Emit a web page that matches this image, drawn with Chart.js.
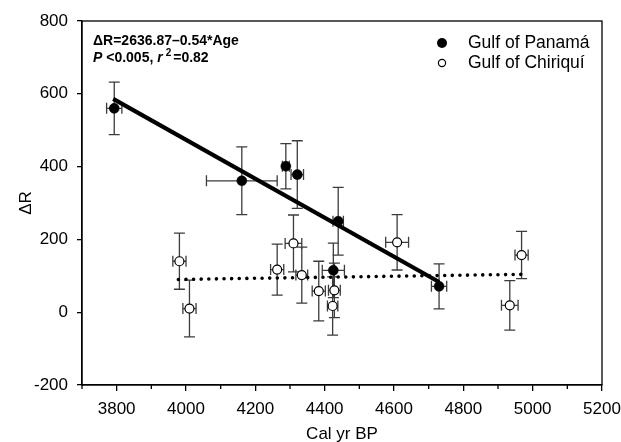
<!DOCTYPE html>
<html><head><meta charset="utf-8">
<script src="https://cdn.jsdelivr.net/npm/chart.js@4"></script>
<style>html,body{margin:0;padding:0;background:#fff;}canvas{display:block;}</style>
</head><body>
<canvas id="c" width="621" height="442"></canvas>
<script>
// ---- data ----
const panamaAge    = [3793, 4161, 4288, 4321, 4439, 4425, 4730];
const panamaDR     = [560, 361, 401, 378, 250, 115, 71];
const panamaAgeErr = [22, 102, 10, 18, 15, 32, 22];
const panamaDRErr  = [72, 93, 62, 93, 93, 75, 62];

const chiriquiAge    = [3981, 4010, 4263, 4310, 4334, 4383, 4428, 4423, 4609, 4968, 4934];
const chiriquiDR     = [140, 10, 117, 189, 102, 58, 60, 17, 192, 157, 19];
const chiriquiAgeErr = [19, 19, 19, 24, 17, 19, 17, 15, 33, 19, 24];
const chiriquiDRErr  = [77, 78, 70, 78, 77, 82, 75, 80, 76, 65, 68];

const panamaFitAge   = [3790, 4730];
const panamaFitDR    = [586, 83];
const chiriquiFitAge = [3978, 4968];
const chiriquiFitDR  = [90, 104];

const xTickValues  = [3800, 4000, 4200, 4400, 4600, 4800, 5000, 5200];
const xMinorTicks  = [3700, 3900, 4100, 4300, 4500, 4700, 4900, 5100];
const yTickValues  = [-200, 0, 200, 400, 600, 800];

const seriesNames = ['Gulf of Panamá', 'Gulf of Chiriquí'];
const xTitle = 'Cal yr BP';
const yTitle = 'ΔR';
const eqLine = 'ΔR=2636.87–0.54*Age';

const FONT = '"Liberation Sans", Arial, Helvetica, sans-serif';
const toPts = (xs, ys) => xs.map((v, i) => ({x: v, y: ys[i]}));

const errorBars = {
  id: 'errorBars',
  beforeDatasetsDraw(chart) {
    const {ctx, scales: {x, y}} = chart;
    ctx.save();
    ctx.strokeStyle = '#3c3c3c';
    ctx.lineWidth = 1.3;
    chart.data.datasets.forEach(ds => {
      if (!ds.errX) return;
      ds.data.forEach((p, i) => {
        const px = x.getPixelForValue(p.x), py = y.getPixelForValue(p.y);
        const y1 = y.getPixelForValue(p.y + ds.errY[i]), y2 = y.getPixelForValue(p.y - ds.errY[i]);
        const x1 = x.getPixelForValue(p.x - ds.errX[i]), x2 = x.getPixelForValue(p.x + ds.errX[i]);
        const c = 5.5;
        ctx.beginPath();
        ctx.moveTo(px, y1); ctx.lineTo(px, y2);
        ctx.moveTo(px - c, y1); ctx.lineTo(px + c, y1);
        ctx.moveTo(px - c, y2); ctx.lineTo(px + c, y2);
        ctx.moveTo(x1, py); ctx.lineTo(x2, py);
        ctx.moveTo(x1, py - c); ctx.lineTo(x1, py + c);
        ctx.moveTo(x2, py - c); ctx.lineTo(x2, py + c);
        ctx.stroke();
      });
    });
    ctx.restore();
  }
};

const decorations = {
  id: 'decorations',
  afterDraw(chart) {
    const {ctx, chartArea: a, scales: {x}} = chart;
    ctx.save();
    // frame
    ctx.strokeStyle = '#000';
    ctx.lineWidth = 1.3;
    ctx.strokeRect(a.left, a.top, a.right - a.left, a.bottom - a.top);
    // minor x ticks
    ctx.beginPath();
    xMinorTicks.forEach(v => {
      const px = x.getPixelForValue(v);
      ctx.moveTo(px, a.bottom); ctx.lineTo(px, a.bottom + 4);
    });
    ctx.stroke();
    // axis titles
    ctx.fillStyle = '#000';
    ctx.font = '17px ' + FONT;
    ctx.textAlign = 'center';
    ctx.textBaseline = 'alphabetic';
    ctx.fillText(xTitle, (a.left + a.right) / 2, 439);
    ctx.save();
    ctx.translate(31, (a.top + a.bottom) / 2);
    ctx.rotate(-Math.PI / 2);
    ctx.fillText(yTitle, 0, 0);
    ctx.restore();
    // equation annotation
    ctx.textAlign = 'left';
    ctx.font = 'bold 14px ' + FONT;
    ctx.fillText(eqLine, 93, 45);
    let cx = 93;
    const seg = (t, f, dy) => { ctx.font = f; ctx.fillText(t, cx, 62 + (dy || 0)); cx += ctx.measureText(t).width; };
    seg('P', 'italic bold 14px ' + FONT);
    seg(' <0.005, ', 'bold 14px ' + FONT);
    seg('r', 'italic bold 14px ' + FONT);
    cx += 3;
    seg('2', 'bold 10px ' + FONT, -6);
    cx += 2;
    seg('=0.82', 'bold 14px ' + FONT);
    // legend
    ctx.font = '17.5px ' + FONT;
    ctx.textBaseline = 'middle';
    ctx.beginPath(); ctx.arc(442, 43, 5, 0, Math.PI * 2); ctx.fillStyle = '#000'; ctx.fill();
    ctx.fillText(seriesNames[0], 468, 43);
    ctx.beginPath(); ctx.arc(442, 63, 3.6, 0, Math.PI * 2); ctx.fillStyle = '#fff'; ctx.fill();
    ctx.lineWidth = 1.2; ctx.strokeStyle = '#000'; ctx.stroke();
    ctx.fillStyle = '#000';
    ctx.fillText(seriesNames[1], 468, 63);
    ctx.restore();
  }
};

new Chart(document.getElementById('c'), {
  type: 'scatter',
  data: {
    datasets: [
      {
        label: seriesNames[0],
        data: toPts(panamaAge, panamaDR),
        errX: panamaAgeErr, errY: panamaDRErr,
        pointRadius: 5, pointBackgroundColor: '#000', pointBorderColor: '#000', pointBorderWidth: 0.5
      },
      {
        label: seriesNames[1],
        data: toPts(chiriquiAge, chiriquiDR),
        errX: chiriquiAgeErr, errY: chiriquiDRErr,
        pointRadius: 4.5, pointBackgroundColor: '#fff', pointBorderColor: '#000', pointBorderWidth: 1.2
      },
      {
        label: 'Panamá fit',
        data: toPts(panamaFitAge, panamaFitDR),
        showLine: true, borderColor: '#000', borderWidth: 4.2, pointRadius: 0, borderCapStyle: 'butt'
      },
      {
        label: 'Chiriquí fit',
        data: toPts(chiriquiFitAge, chiriquiFitDR),
        showLine: true, borderColor: '#000', borderWidth: 3.6, pointRadius: 0,
        borderDash: [0.01, 7.6], borderCapStyle: 'round'
      }
    ]
  },
  options: {
    responsive: false,
    animation: false,
    events: [],
    layout: {padding: {left: 0, top: 21, right: 19, bottom: 0}},
    plugins: {legend: {display: false}, tooltip: {enabled: false}},
    scales: {
      x: {
        type: 'linear', min: 3700, max: 5200,
        afterBuildTicks: s => { s.ticks = xTickValues.map(v => ({value: v})); },
        afterFit: s => { s.height = 57; s.paddingLeft = 0; s.paddingRight = 0; },
        grid: {drawOnChartArea: false, drawTicks: true, tickLength: 6, color: '#000', lineWidth: 1.3},
        border: {display: true, color: '#000', width: 1.3},
        ticks: {color: '#000', font: {family: FONT, size: 17}, padding: 8, maxRotation: 0, autoSkip: false,
                callback: v => String(v)}
      },
      y: {
        type: 'linear', min: -200, max: 800,
        afterBuildTicks: s => { s.ticks = yTickValues.map(v => ({value: v})); },
        afterFit: s => { s.width = 82; s.paddingTop = 0; s.paddingBottom = 0; },
        grid: {drawOnChartArea: false, drawTicks: true, tickLength: 5, color: '#000', lineWidth: 1.3},
        border: {display: true, color: '#000', width: 1.3},
        ticks: {color: '#000', font: {family: FONT, size: 17}, padding: 9, autoSkip: false,
                callback: v => String(v)}
      }
    }
  },
  plugins: [errorBars, decorations]
});
</script>
</body></html>
